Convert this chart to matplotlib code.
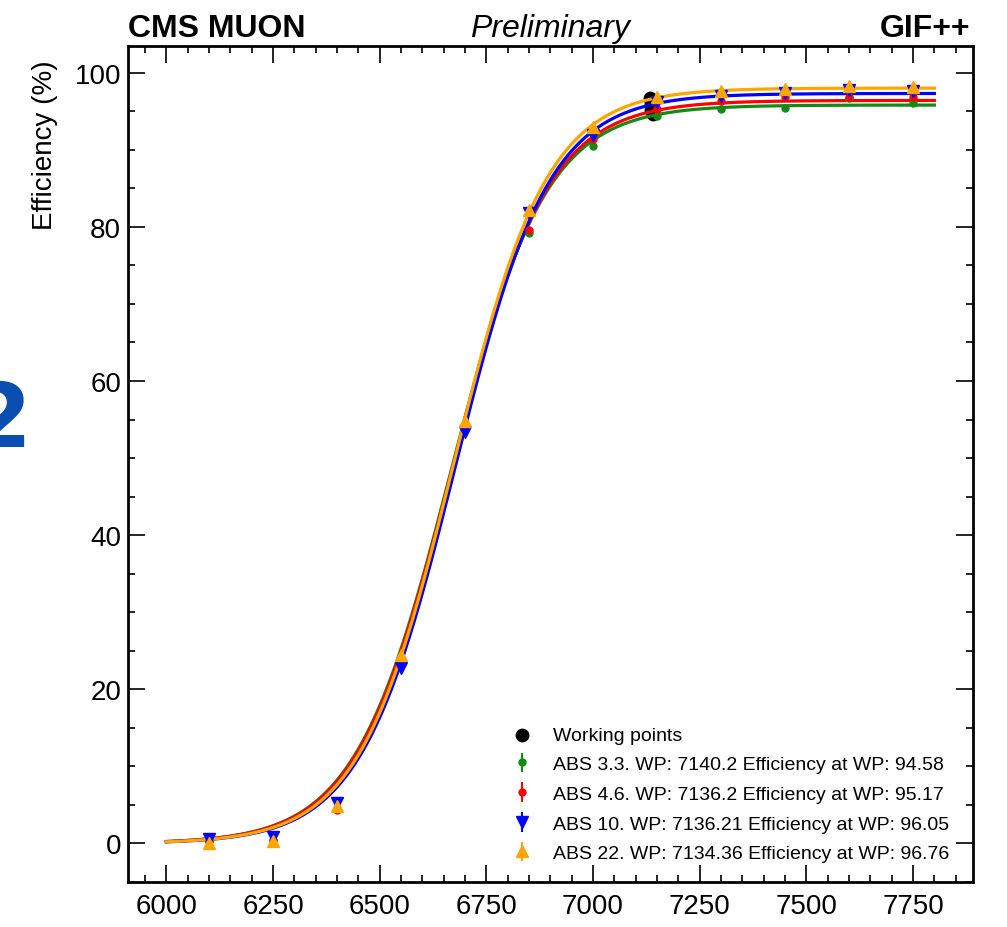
import numpy as np
import matplotlib.pyplot as plt

plt.rcParams['font.family'] = ['Liberation Sans', 'DejaVu Sans']

# HV scan points (V)
hv = [6100, 6250, 6400, 6550, 6700, 6850, 7000, 7150, 7300, 7450, 7600, 7750]

# efficiency (%) per absorber setting
eff_abs33 = [0.3, 0.5, 4.6, 23.6, 54.0, 79.2, 90.5, 94.4, 95.3, 95.4, 96.7, 96.0]
eff_abs46 = [0.3, 0.5, 4.3, 23.7, 54.1, 79.6, 91.4, 95.3, 96.3, 96.8, 96.9, 96.8]
eff_abs10 = [0.6, 0.9, 5.2, 22.8, 53.4, 81.8, 91.9, 96.2, 97.0, 97.4, 97.8, 97.6]
eff_abs22 = [0.1, 0.3, 4.8, 24.4, 54.8, 82.2, 93.0, 96.8, 97.6, 97.9, 98.3, 98.2]
eff_err = 0.4

# sigmoid fit parameters: plateau, midpoint, width
fit_abs33 = (95.8, 6665.0, 112.0)
fit_abs46 = (96.4, 6668.0, 112.0)
fit_abs10 = (97.3, 6676.0, 110.0)
fit_abs22 = (98.0, 6672.0, 110.0)

# working points
wp_hv = [7140.2, 7136.2, 7136.21, 7134.36]
wp_eff = [94.58, 95.17, 96.05, 96.76]

labels = ["ABS 3.3", "ABS 4.6", "ABS 10", "ABS 22"]
colors = ["#138a13", "#ff0000", "#0000ff", "#ffa500"]
markers = ["o", "o", "v", "^"]
msizes = [5, 5, 9, 9]


def sigmoid(x, p):
    plateau, mid, width = p
    return plateau / (1 + np.exp(-(x - mid) / width))


fig = plt.figure(figsize=(10.07, 9.28), dpi=100)
ax = fig.add_axes([0.1271, 0.0485, 0.8389, 0.9012])

ax.scatter(wp_hv, wp_eff, s=80, color='black', zorder=1, label='Working points')

xs = np.linspace(6000, 7800, 400)
handles = []
for eff, fit, lab, col, mk, ms, wx, we in zip(
        [eff_abs33, eff_abs46, eff_abs10, eff_abs22],
        [fit_abs33, fit_abs46, fit_abs10, fit_abs22],
        labels, colors, markers, msizes, wp_hv, wp_eff):
    ax.plot(xs, sigmoid(xs, fit), color=col, lw=2.3, zorder=2)
    h = ax.errorbar(hv, eff, yerr=eff_err, fmt=mk, color=col, ms=ms,
                    elinewidth=1.5, capsize=0, zorder=3,
                    label=f"{lab}. WP: {wx} Efficiency at WP: {we}")
    handles.append(h)

ax.set_xlim(5910, 7890)
ax.set_ylim(-4.8, 103.5)
ax.set_xticks([6000, 6250, 6500, 6750, 7000, 7250, 7500, 7750])
ax.set_xticks(np.arange(5950, 7890, 50), minor=True)
ax.set_yticks([0, 20, 40, 60, 80, 100])
ax.set_yticks(np.arange(-5, 104, 5), minor=True)
ax.tick_params(which='both', direction='in', top=True, right=True, labelsize=20, width=1.2)
ax.tick_params(which='major', length=12)
ax.tick_params(which='minor', length=5)
ax.tick_params(axis='x', pad=8)
ax.tick_params(axis='y', pad=5)
for sp in ax.spines.values():
    sp.set_linewidth(2)

fig.text(45 / 1007, 1 - 60 / 928, "Efficiency (%)", rotation=90, ha='center', va='top', fontsize=20)

fig.text(128 / 1007, 1 - 37 / 928, "CMS MUON", fontsize=23, fontweight='bold', va='baseline', ha='left')
fig.text(550 / 1007, 1 - 37 / 928, "Preliminary", fontsize=23, style='italic', va='baseline', ha='center')
fig.text(970 / 1007, 1 - 37 / 928, "GIF++", fontsize=23, fontweight='bold', va='baseline', ha='right')

fig.text(-30 / 1007, 1 - 447 / 928, "2", fontsize=64, fontweight='bold', color='#0a4db3',
         family='DejaVu Sans', va='baseline', ha='left')

leg_handles = [ax.collections[0]] + handles
leg_labels = ['Working points'] + [h.get_label() for h in handles]
ax.legend(leg_handles, leg_labels, loc='upper left', bbox_to_anchor=(512 / 1007, 1 - 727 / 928),
          bbox_transform=fig.transFigure, frameon=False, fontsize=14, handlelength=1.0,
          handletextpad=1.1, labelspacing=0.62, borderpad=0, borderaxespad=0)

fig.savefig("out.png", dpi=100)
